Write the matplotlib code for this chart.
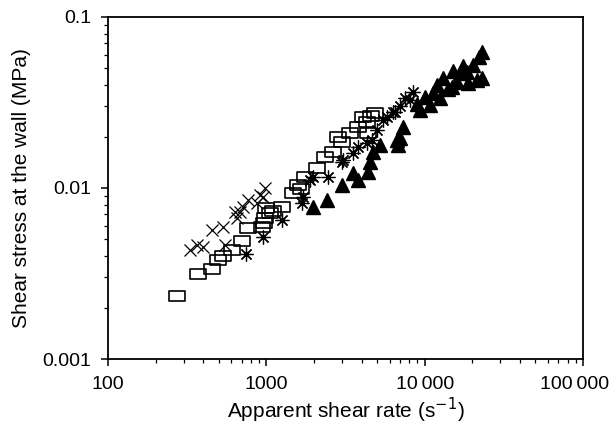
import numpy as np
import matplotlib.pyplot as plt
from matplotlib.path import Path
from matplotlib.transforms import ScaledTranslation
from matplotlib.ticker import FixedLocator, FixedFormatter, LogLocator, NullFormatter

plt.rcParams['font.family'] = ['Liberation Sans', 'DejaVu Sans']

# open squares
sq_rate = [273, 370, 454, 495, 533, 607, 702, 766, 939, 981, 1055, 1000, 960, 1257,
           1474, 1585, 1756, 2090, 2350, 2637, 2838, 3380, 3795, 4083, 4325, 4860,
           4388, 1100, 1650, 3000, 4600]
sq_stress = [0.00233, 0.00314, 0.00336, 0.00379, 0.0040, 0.00434, 0.0049, 0.00583,
             0.00592, 0.00668, 0.00714, 0.0076, 0.0062, 0.00774, 0.00935, 0.0104,
             0.0116, 0.0131, 0.0152, 0.0163, 0.0199, 0.021, 0.0228, 0.026, 0.0243,
             0.0275, 0.021, 0.0073, 0.0098, 0.0185, 0.0265]

# crosses
x_rate = [330, 365, 398, 454, 533, 548, 653, 682, 766, 873, 981, 953, 713, 635, 912]
x_stress = [0.00434, 0.00464, 0.00452, 0.00568, 0.00592, 0.00464, 0.00668, 0.00724,
            0.0085, 0.00817, 0.0100, 0.00885, 0.00774, 0.00724, 0.0091]

# asterisks
ast_rate = [745, 953, 1257, 1681, 1706, 1972, 2453, 3052, 3530, 4325, 5000, 5785,
            6500, 7520, 8450, 1890, 3006, 3795, 4650, 5460, 8090, 6310, 7000]
ast_stress = [0.00411, 0.00517, 0.0065, 0.00817, 0.00885, 0.0116, 0.0116, 0.0146,
              0.016, 0.0183, 0.0218, 0.026, 0.0278, 0.0336, 0.0364, 0.0111, 0.0142,
              0.0174, 0.0191, 0.025, 0.0327, 0.0278, 0.030]

# filled triangles
tri_rate = [1972, 2417, 3006, 3795, 3530, 4388, 4520, 4720, 5225, 6790, 6995, 7310,
            9350, 10820, 12500, 6695, 11300, 13070, 14900, 16740, 18800, 21430, 20230,
            23070, 18530, 16030, 15000, 17500, 22000, 12000, 10000, 9000, 14000, 23000]
tri_stress = [0.00774, 0.0085, 0.0104, 0.0111, 0.0122, 0.0124, 0.0142, 0.0163, 0.0178,
              0.0178, 0.0196, 0.0228, 0.0286, 0.0306, 0.0336, 0.0191, 0.036, 0.044,
              0.039, 0.0471, 0.0411, 0.0428, 0.0524, 0.0624, 0.0477, 0.0417, 0.048,
              0.052, 0.058, 0.040, 0.034, 0.031, 0.038, 0.044]

x_ticks = [100, 1000, 10000, 100000]
x_labels = ['100', '1000', '10\u2009000', '100\u2009000']
y_ticks = [0.001, 0.01, 0.1]
y_labels = ['0.001', '0.01', '0.1']

# flat rectangle for the scanned squares
rect = Path([(-1, -0.55), (1, -0.55), (1, 0.55), (-1, 0.55), (-1, -0.55)],
            [Path.MOVETO, Path.LINETO, Path.LINETO, Path.LINETO, Path.CLOSEPOLY])

fig = plt.figure(figsize=(6.16, 4.30), dpi=100)
ax = fig.add_axes([0.1753, 0.1651, 0.7711, 0.7954])

ax.plot(x_rate, x_stress, ls='none', marker='x', ms=9, mew=0.9, color='black')
ax.plot(sq_rate, sq_stress, ls='none', marker=rect, ms=12, mew=1.2,
        mfc='none', mec='black')
ax.plot(ast_rate, ast_stress, ls='none', marker=(8, 2, 0), ms=10, mew=0.9,
        color='black')
ax.plot(tri_rate, tri_stress, ls='none', marker='^', ms=10, color='black')

ax.set_xscale('log')
ax.set_yscale('log')
ax.set_xlim(100, 100000)
ax.set_ylim(0.001, 0.1)

ax.xaxis.set_major_locator(FixedLocator(x_ticks))
ax.xaxis.set_major_formatter(FixedFormatter(x_labels))
ax.yaxis.set_major_locator(FixedLocator(y_ticks))
ax.yaxis.set_major_formatter(FixedFormatter(y_labels))
ax.xaxis.set_minor_locator(LogLocator(base=10, subs=np.arange(2, 10)))
ax.yaxis.set_minor_locator(LogLocator(base=10, subs=np.arange(2, 10)))
ax.xaxis.set_minor_formatter(NullFormatter())
ax.yaxis.set_minor_formatter(NullFormatter())

ax.tick_params(which='major', direction='out', length=5, width=1.1,
               labelsize=14, pad=7)
ax.tick_params(which='minor', direction='out', length=3, width=0.9)
for s in ax.spines.values():
    s.set_linewidth(1.3)

# keep the last x label inside the figure
last = ax.get_xticklabels()[-1]
last.set_transform(last.get_transform() + ScaledTranslation(-6 / 72, 0, fig.dpi_scale_trans))

ax.set_xlabel('Apparent shear rate (s$^{-1}$)', fontsize=15, labelpad=2)
ax.set_ylabel('Shear stress at the wall (MPa)', fontsize=15, labelpad=8)

fig.savefig('out.png', dpi=100)
